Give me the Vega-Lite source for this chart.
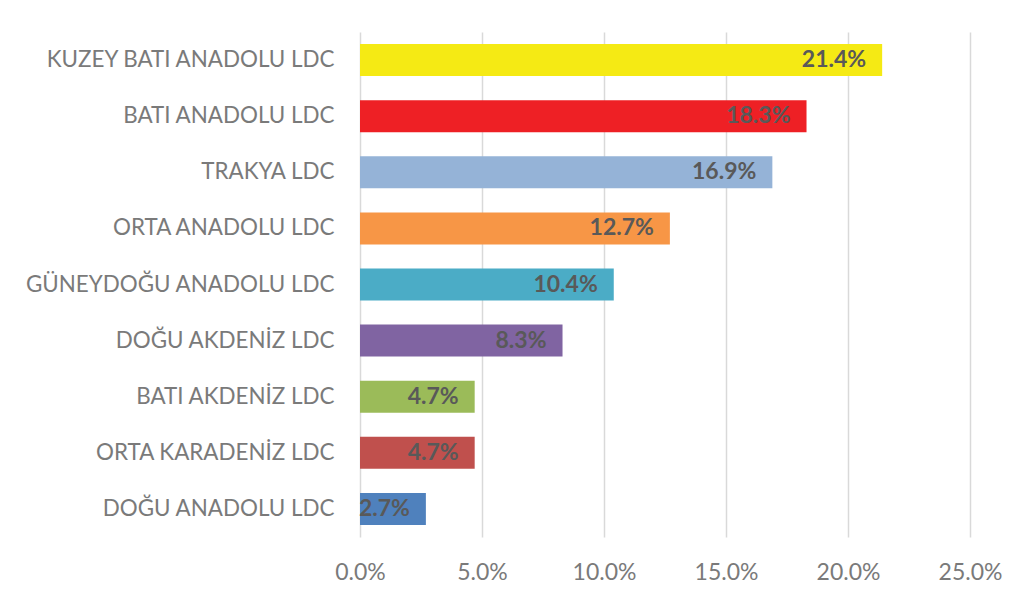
{
  "$schema": "https://vega.github.io/schema/vega-lite/v6.json",
  "width": 610,
  "height": 505,
  "autosize": {"type": "none"},
  "padding": {"left": 360, "top": 32, "right": 61, "bottom": 66},
  "background": "white",
  "config": {
    "view": {"stroke": null},
    "font": "Lato"
  },
  "data": {
    "values": [
      {"region": "KUZEY BATI ANADOLU LDC", "share": 0.214, "color": "#F5EA14"},
      {"region": "BATI ANADOLU LDC", "share": 0.183, "color": "#EE2025"},
      {"region": "TRAKYA LDC", "share": 0.169, "color": "#95B3D7"},
      {"region": "ORTA ANADOLU LDC", "share": 0.127, "color": "#F79646"},
      {"region": "GÜNEYDOĞU ANADOLU LDC", "share": 0.104, "color": "#4BACC6"},
      {"region": "DOĞU AKDENİZ LDC", "share": 0.083, "color": "#8064A2"},
      {"region": "BATI AKDENİZ LDC", "share": 0.047, "color": "#9BBB59"},
      {"region": "ORTA KARADENİZ LDC", "share": 0.047, "color": "#C0504D"},
      {"region": "DOĞU ANADOLU LDC", "share": 0.027, "color": "#4F81BD"}
    ]
  },
  "encoding": {
    "y": {
      "field": "region",
      "type": "nominal",
      "sort": null,
      "scale": {"paddingInner": 0.43, "paddingOuter": 0.215},
      "axis": {
        "title": null,
        "ticks": false,
        "domain": false,
        "labelPadding": 26,
        "labelFontSize": 22.4,
        "labelColor": "#7A7A7A",
        "labelFont": "Lato",
        "labelLimit": 400
      }
    },
    "x": {
      "field": "share",
      "type": "quantitative",
      "scale": {"domain": [0, 0.25], "nice": false},
      "axis": {
        "title": null,
        "format": ".1%",
        "values": [0, 0.05, 0.1, 0.15, 0.2, 0.25],
        "ticks": false,
        "domain": false,
        "grid": true,
        "gridColor": "#D9D9D9",
        "gridWidth": 1.5,
        "labelFlush": false,
        "labelPadding": 24,
        "labelFontSize": 23,
        "labelColor": "#7A7A7A",
        "labelFont": "Lato"
      }
    }
  },
  "layer": [
    {
      "mark": {"type": "bar"},
      "encoding": {
        "color": {"field": "color", "type": "nominal", "scale": null, "legend": null}
      }
    },
    {
      "mark": {"type": "text", "align": "right", "dx": -16, "fontSize": 23, "fontWeight": "bold", "color": "#595959", "font": "Lato"},
      "encoding": {
        "text": {"field": "share", "type": "quantitative", "format": ".1%"}
      }
    }
  ]
}
